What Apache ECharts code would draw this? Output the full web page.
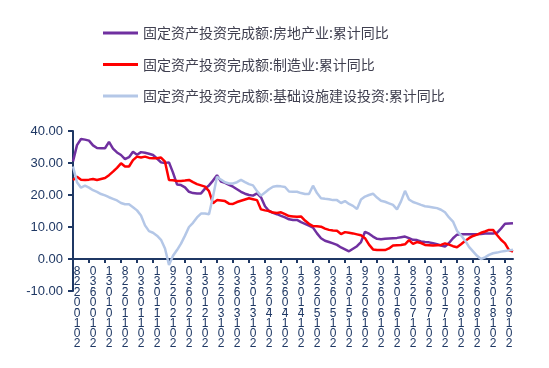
<!DOCTYPE html>
<html>
<head>
<meta charset="utf-8">
<script src="https://cdn.jsdelivr.net/npm/echarts@6/dist/echarts.min.js"></script>
<style>
  html, body { margin: 0; padding: 0; background: #fff; }
  #main { width: 549px; height: 368px; }
</style>
</head>
<body>
<div id="main"></div>
<script>
// 月末日期
var months = [
  '2010-01-31','2010-02-28','2010-03-31','2010-04-30','2010-05-31','2010-06-30','2010-07-31','2010-08-31','2010-09-30','2010-10-31','2010-11-30','2010-12-31',
  '2011-01-31','2011-02-28','2011-03-31','2011-04-30','2011-05-31','2011-06-30','2011-07-31','2011-08-31','2011-09-30','2011-10-31','2011-11-30','2011-12-31',
  '2012-01-31','2012-02-29','2012-03-31','2012-04-30','2012-05-31','2012-06-30','2012-07-31','2012-08-31','2012-09-30','2012-10-31','2012-11-30','2012-12-31',
  '2013-01-31','2013-02-28','2013-03-31','2013-04-30','2013-05-31','2013-06-30','2013-07-31','2013-08-31','2013-09-30','2013-10-31','2013-11-30','2013-12-31',
  '2014-01-31','2014-02-28','2014-03-31','2014-04-30','2014-05-31','2014-06-30','2014-07-31','2014-08-31','2014-09-30','2014-10-31','2014-11-30','2014-12-31',
  '2015-01-31','2015-02-28','2015-03-31','2015-04-30','2015-05-31','2015-06-30','2015-07-31','2015-08-31','2015-09-30','2015-10-31','2015-11-30','2015-12-31',
  '2016-01-31','2016-02-29','2016-03-31','2016-04-30','2016-05-31','2016-06-30','2016-07-31','2016-08-31','2016-09-30','2016-10-31','2016-11-30','2016-12-31',
  '2017-01-31','2017-02-28','2017-03-31','2017-04-30','2017-05-31','2017-06-30','2017-07-31','2017-08-31','2017-09-30','2017-10-31','2017-11-30','2017-12-31',
  '2018-01-31','2018-02-28','2018-03-31','2018-04-30','2018-05-31','2018-06-30','2018-07-31','2018-08-31','2018-09-30','2018-10-31','2018-11-30','2018-12-31',
  '2019-01-31','2019-02-28','2019-03-31'
];

// 房地产业:累计同比
var realEstate = [
  30.5, 35.6, 37.5, 37.3, 37.0, 35.5, 34.7, 34.6, 34.6, 36.6, 34.5, 33.3,
  32.5, 31.2, 31.8, 33.5, 32.6, 33.4, 33.2, 32.9, 32.5, 31.4, 30.2, 30.0,
  30.2, 27.0, 23.3, 23.1, 22.4, 21.0, 20.6, 20.5, 20.5, 22.0, 23.0, 24.5,
  26.2, 24.2, 23.8, 23.2, 22.6, 21.8, 21.0, 20.4, 20.0, 19.8, 20.5, 19.3,
  16.5, 15.0, 14.4, 14.0, 13.5, 13.0, 12.4, 12.2, 12.2, 11.5, 11.0, 10.4,
  9.8, 8.0, 6.5, 5.7, 5.3, 4.9, 4.4, 3.6, 3.0, 2.4, 3.2, 4.0,
  5.3, 8.5, 7.9, 7.0, 6.3, 6.2, 6.3, 6.4, 6.5, 6.6, 6.8, 7.0,
  6.5, 6.0, 5.9, 5.5, 5.3, 5.2, 4.9, 4.6, 4.2, 3.9, 5.0, 6.5,
  7.6, 7.7, 7.7, 7.7, 7.7, 7.7, 7.8, 8.0, 8.0, 8.0, 8.2, 9.5,
  11.0, 11.1, 11.2
];

// 制造业:累计同比
var manufacturing = [
  24.7, 25.7, 24.8, 24.7, 24.8, 25.0, 24.7, 25.0, 25.3, 26.2, 27.3, 28.5,
  29.9, 28.9, 28.9, 30.9, 32.0, 31.7, 32.0, 31.6, 31.5, 31.5, 31.7, 30.4,
  24.7, 24.6, 24.4, 24.4, 24.5, 24.7, 24.0, 23.4, 23.0, 22.6, 21.2, 17.4,
  18.4, 18.3, 18.1, 17.3, 17.2, 17.8, 18.2, 18.6, 19.0, 18.7, 18.4, 15.5,
  15.2, 15.0, 14.5, 14.4, 14.6, 14.0, 13.4, 13.3, 13.2, 13.3, 12.0, 11.0,
  10.3, 10.2, 10.1, 9.5, 9.1, 8.9, 8.8, 7.8, 8.4, 8.2, 8.0, 7.7,
  7.4, 6.5, 4.5, 3.0, 2.8, 2.8, 2.8, 3.3, 4.2, 4.3, 4.4, 4.6,
  5.9, 4.7, 5.3, 5.0, 4.4, 4.3, 4.2, 4.3, 4.4, 4.9, 4.5, 4.0,
  3.7, 4.6, 5.6, 6.5, 7.2, 7.6, 8.2, 8.6, 9.1, 9.1, 7.5, 6.0,
  4.9, 2.8, 2.3
];

// 基础设施建设投资:累计同比
var infrastructure = [
  28.9, 24.0, 22.3, 22.9, 22.3, 21.5, 21.0, 20.3, 19.9, 19.3, 18.8, 18.3,
  17.5, 17.1, 17.1, 16.2, 15.2, 13.6, 10.5, 8.7, 8.2, 7.3, 6.0, 3.3,
  -1.9, 1.0, 2.8, 4.8, 7.3, 10.0, 11.3, 13.0, 14.2, 14.2, 14.0, 19.5,
  25.7, 24.8, 24.0, 23.6, 23.6, 24.0, 24.7, 24.0, 23.4, 23.0, 21.2, 19.8,
  20.8, 21.8, 22.6, 22.8, 22.7, 22.5, 21.1, 21.0, 21.0, 20.6, 20.3, 20.3,
  22.9, 20.6, 19.0, 18.8, 18.7, 18.4, 18.4, 17.5, 18.1, 17.2, 16.6, 15.6,
  18.6, 19.5, 20.0, 20.4, 19.2, 18.2, 17.9, 17.4, 16.9, 15.5, 18.0, 21.3,
  18.6, 17.8, 17.4, 16.9, 16.5, 16.3, 16.1, 15.9, 15.4, 14.6, 13.0, 11.7,
  8.8, 7.4, 5.8, 3.8, 2.4, 1.0, 0.0, 0.5, 1.3, 1.8, 2.0, 2.3,
  2.5, 2.7, 2.9
];

var seriesNames = [
  '固定资产投资完成额:房地产业:累计同比',
  '固定资产投资完成额:制造业:累计同比',
  '固定资产投资完成额:基础设施建设投资:累计同比'
];

var navy = '#1F3864';
var myChart = echarts.init(document.getElementById('main'));

var option = {
  backgroundColor: '#fff',
  animation: false,
  legend: {
    orient: 'vertical',
    left: 98,
    top: 20,
    itemWidth: 35,
    itemHeight: 3,
    itemGap: 15.5,
    icon: 'rect',
    textStyle: {
      fontFamily: 'Noto Sans CJK SC',
      fontSize: 14,
      lineHeight: 16,
      color: '#404050'
    },
    data: seriesNames
  },
  grid: {
    left: 73,
    right: 36,
    top: 131,
    bottom: 77,
    containLabel: false,
    outerBoundsMode: 'none'
  },
  xAxis: {
    type: 'category',
    boundaryGap: false,
    data: months,
    axisLine: { onZero: true, lineStyle: { color: navy, width: 2 } },
    axisTick: {
      length: 4,
      interval: function (i) { return i % 4 === 0; },
      lineStyle: { color: navy, width: 2 }
    },
    axisLabel: {
      interval: function (i) { return i % 4 === 1; },
      margin: -24,
      // 竖排日期,字符自下而上
      formatter: function (v) {
        return v.split('').reverse().map(function (c) {
          return c === '-' ? '{d|-}' : '{n|' + c + '}';
        }).join('\n');
      },
      rich: {
        n: { fontFamily: 'Liberation Sans', fontSize: 12, lineHeight: 10, color: navy },
        d: { fontFamily: 'Liberation Sans', fontSize: 12, lineHeight: 1, color: navy }
      }
    },
    splitLine: { show: false }
  },
  yAxis: {
    type: 'value',
    min: -10,
    max: 40,
    interval: 10,
    axisLine: { show: true, lineStyle: { color: navy, width: 2 } },
    axisTick: { show: true, length: 5, lineStyle: { color: navy, width: 2 } },
    axisLabel: {
      margin: 10,
      fontFamily: 'Liberation Sans',
      fontSize: 13,
      color: navy,
      formatter: function (v) { return v.toFixed(2); }
    },
    splitLine: { show: false }
  },
  series: [
    {
      name: seriesNames[0],
      type: 'line',
      data: realEstate,
      symbol: 'none',
      lineStyle: { color: '#7030A0', width: 2.5 },
      itemStyle: { color: '#7030A0' }
    },
    {
      name: seriesNames[1],
      type: 'line',
      data: manufacturing,
      symbol: 'none',
      lineStyle: { color: '#FF0000', width: 2.5 },
      itemStyle: { color: '#FF0000' }
    },
    {
      name: seriesNames[2],
      type: 'line',
      data: infrastructure,
      symbol: 'none',
      lineStyle: { color: '#B4C7E7', width: 2.5 },
      itemStyle: { color: '#B4C7E7' }
    }
  ]
};
myChart.setOption(option);
</script>
</body>
</html>
